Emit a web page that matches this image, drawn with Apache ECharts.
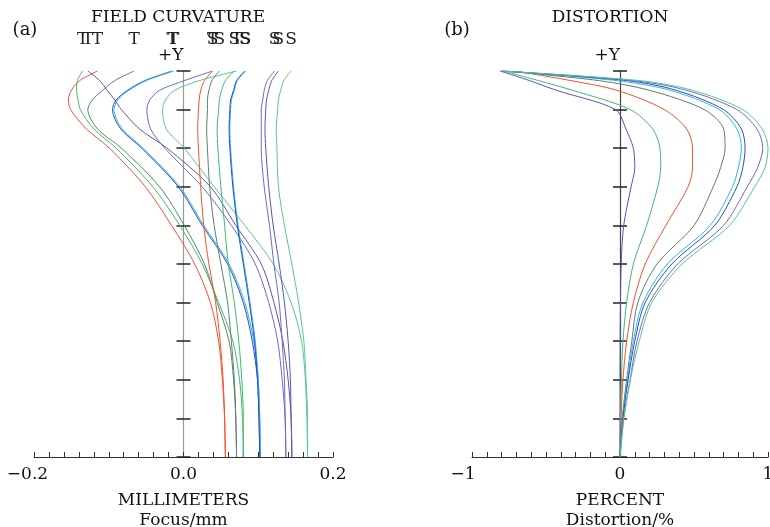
<!DOCTYPE html>
<html>
<head>
<meta charset="utf-8">
<script src="https://cdn.jsdelivr.net/npm/echarts@6/dist/echarts.min.js"></script>
<style>
  html, body { margin: 0; padding: 0; background: #fff; }
  #main { width: 770px; height: 527px; }
</style>
</head>
<body>
<div id="main"></div>
<script>
const FONT = '"DejaVu Serif", serif';

// ---- field curvature (a) : relative field height, top -> bottom
const fieldY = [1, 0.975, 0.95, 0.925, 0.9, 0.85, 0.8, 0.7, 0.6, 0.5, 0.4, 0.3, 0.2, 0.1, 0];

// tangential curves (mm)
const redT     = [-0.115, -0.139, -0.150, -0.154, -0.151, -0.130, -0.099, -0.051, -0.016, 0.015, 0.036, 0.047, 0.052, 0.055, 0.056];
const greenT   = [-0.135, -0.142, -0.143, -0.141, -0.138, -0.120, -0.090, -0.041, -0.005, 0.025, 0.047, 0.066, 0.075, 0.079, 0.080];
const dkgreenT = [-0.066, -0.092, -0.108, -0.122, -0.128, -0.115, -0.083, -0.032, 0.001, 0.028, 0.045, 0.061, 0.067, 0.070, 0.071];
const blueT    = [-0.015, -0.052, -0.075, -0.090, -0.095, -0.084, -0.056, -0.007, 0.025, 0.059, 0.080, 0.092, 0.099, 0.101, 0.102];
const cyanT    = [-0.013, -0.050, -0.073, -0.088, -0.093, -0.082, -0.054, -0.005, 0.027, 0.061, 0.082, 0.094, 0.100, 0.102, 0.103];
const purpleAT = [-0.128, -0.112, -0.102, -0.092, -0.083, -0.059, -0.022, 0.036, 0.070, 0.104, 0.121, 0.133, 0.140, 0.144, 0.145];
const purpleBT = [0.039, 0.001, -0.032, -0.045, -0.049, -0.044, -0.025, 0.025, 0.064, 0.096, 0.114, 0.126, 0.132, 0.136, 0.137];
const lgreenT  = [0.071, 0.021, -0.012, -0.024, -0.028, -0.023, 0.001, 0.041, 0.082, 0.120, 0.144, 0.158, 0.163, 0.165, 0.166];

// sagittal curves (mm)
const redS     = [0.039, 0.028, 0.023, 0.021, 0.020, 0.019, 0.020, 0.023, 0.027, 0.034, 0.043, 0.049, 0.053, 0.055, 0.056];
const dkgreenS = [0.048, 0.038, 0.034, 0.032, 0.032, 0.031, 0.032, 0.035, 0.041, 0.050, 0.059, 0.064, 0.068, 0.070, 0.071];
const greenS   = [0.068, 0.056, 0.051, 0.048, 0.047, 0.045, 0.046, 0.050, 0.055, 0.060, 0.068, 0.074, 0.078, 0.080, 0.080];
const blueS    = [0.082, 0.071, 0.067, 0.063, 0.062, 0.061, 0.062, 0.066, 0.072, 0.080, 0.088, 0.095, 0.099, 0.101, 0.102];
const cyanS    = [0.083, 0.072, 0.068, 0.064, 0.063, 0.062, 0.063, 0.067, 0.073, 0.081, 0.089, 0.096, 0.100, 0.102, 0.103];
const purpleBS = [0.122, 0.112, 0.108, 0.106, 0.104, 0.104, 0.104, 0.108, 0.115, 0.121, 0.128, 0.132, 0.135, 0.136, 0.137];
const purpleAS = [0.127, 0.118, 0.114, 0.111, 0.110, 0.109, 0.110, 0.114, 0.120, 0.128, 0.135, 0.140, 0.143, 0.144, 0.145];
const lgreenS  = [0.144, 0.134, 0.130, 0.127, 0.126, 0.124, 0.125, 0.127, 0.135, 0.145, 0.154, 0.161, 0.164, 0.166, 0.166];

// ---- distortion (b) : relative field height, top -> bottom
const distY = [1, 0.975, 0.95, 0.9, 0.85, 0.8, 0.75, 0.7, 0.6, 0.5, 0.4, 0.3, 0.2, 0.1, 0];

// distortion (%)
const purpleAD = [-0.81, -0.61, -0.43, -0.03, 0.04, 0.09, 0.10, 0.075, 0.025, 0.008, 0.003, 0.001, 0, 0, 0];
const greenD   = [-0.79, -0.55, -0.32, 0.07, 0.22, 0.27, 0.275, 0.255, 0.18, 0.09, 0.045, 0.02, 0.01, 0.003, 0];
const redD     = [-0.71, -0.33, -0.02, 0.30, 0.45, 0.49, 0.49, 0.46, 0.31, 0.17, 0.09, 0.045, 0.02, 0.007, 0];
const dkgreenD = [-0.78, -0.14, 0.20, 0.57, 0.70, 0.71, 0.68, 0.63, 0.50, 0.25, 0.12, 0.08, 0.045, 0.015, 0];
const cyanD    = [-0.79, -0.02, 0.34, 0.67, 0.79, 0.82, 0.80, 0.76, 0.61, 0.32, 0.155, 0.09, 0.05, 0.018, 0];
const blueD    = [-0.80, 0.05, 0.38, 0.70, 0.82, 0.845, 0.83, 0.79, 0.64, 0.35, 0.17, 0.10, 0.055, 0.02, 0];
const purpleBD = [-0.81, 0.09, 0.45, 0.79, 0.925, 0.965, 0.93, 0.86, 0.70, 0.39, 0.20, 0.115, 0.068, 0.025, 0];
const lgreenD  = [-0.80, 0.135, 0.49, 0.83, 0.96, 1.0, 0.98, 0.91, 0.74, 0.42, 0.215, 0.13, 0.07, 0.027, 0];

// tick labels
const fieldTicks = [-0.2, 0, 0.2];
const fieldTickText = ['\u22120.2', '0.0', '0.2'];
const distTicks = [-1, 0, 1];
const distTickText = ['\u22121', '0', '1'];

const C = {
  red: '#f2502c', dkgreen: '#5b806a', green: '#3dbb6e', blue: '#2450c4',
  cyan: '#2fb4e6', purpleA: '#5b52b5', purpleB: '#6c68cc', lgreen: '#55c98e'
};

function fieldSeries(xs, color, tag) {
  return {
    type: 'line', xAxisIndex: 0, yAxisIndex: 0,
    data: xs.map((x, i) => i === 0
      ? { value: [x, fieldY[i]], label: { show: true, formatter: tag } }
      : [x, fieldY[i]]),
    smooth: 0.3, symbol: 'circle', symbolSize: 0, showSymbol: true,
    lineStyle: { width: 1, color: color }, itemStyle: { color: color },
    label: { show: false, position: 'top', distance: 23, color: '#222', fontFamily: FONT, fontSize: 17 },
    silent: true
  };
}

function distSeries(xs, color) {
  return {
    type: 'line', xAxisIndex: 1, yAxisIndex: 2,
    data: xs.map((x, i) => [x, distY[i]]),
    smooth: 0.3, symbol: 'none',
    lineStyle: { width: 1, color: color },
    silent: true
  };
}

function tickFormatter(values, texts) {
  return function (v) {
    for (let i = 0; i < values.length; i++) {
      if (Math.abs(v - values[i]) < 1e-6) {
        return values[i] < 0 ? '{n|' + texts[i] + '}' : texts[i];
      }
    }
    return '';
  };
}

function xAxisOf(grid, min, max, step, values, texts, pad, name) {
  return {
    type: 'value', gridIndex: grid, min: min, max: max, interval: step,
    axisLine: { lineStyle: { color: '#333', width: 1 } },
    axisTick: { inside: true, length: 5, lineStyle: { color: '#333' } },
    splitLine: { show: false },
    axisLabel: {
      margin: 9, color: '#111', fontFamily: FONT, fontSize: 17,
      formatter: tickFormatter(values, texts),
      rich: { n: { fontFamily: FONT, fontSize: 17, color: '#111', padding: [0, pad, 0, 0] } }
    },
    name: name, nameLocation: 'middle', nameGap: 34,
    nameTextStyle: { color: '#111', fontFamily: FONT, fontSize: 17, lineHeight: 20 }
  };
}

// two y axes per grid on x = 0 : one tick set points right, the other left
function yAxesOf(grid, xIndex, lineColor) {
  const base = {
    type: 'value', gridIndex: grid, min: 0, max: 1, interval: 0.1, position: 'left',
    axisLabel: { show: false }, splitLine: { show: false }
  };
  return [
    Object.assign({}, base, {
      name: '+Y', nameLocation: 'end', nameGap: 7,
      nameTextStyle: { color: '#111', fontFamily: FONT, fontSize: 17, align: 'right' },
      axisLine: { show: true, onZero: true, onZeroAxisIndex: xIndex, lineStyle: { color: lineColor, width: 1.2 } },
      axisTick: { inside: true, length: 7, lineStyle: { color: '#222', width: 1.5 } }
    }),
    Object.assign({}, base, {
      axisLine: { show: false, onZero: true, onZeroAxisIndex: xIndex },
      axisTick: { inside: false, length: 7, lineStyle: { color: '#222', width: 1.5 } }
    })
  ];
}

const series = [
  fieldSeries(redT, C.red, 'T'), fieldSeries(greenT, C.green, 'T'),
  fieldSeries(dkgreenT, C.dkgreen, 'T'), fieldSeries(blueT, C.blue, 'T'),
  fieldSeries(cyanT, C.cyan, 'T'), fieldSeries(purpleAT, C.purpleA, 'T'),
  fieldSeries(purpleBT, C.purpleB, 'T'), fieldSeries(lgreenT, C.lgreen, 'T'),
  fieldSeries(redS, C.red, 'S'), fieldSeries(dkgreenS, C.dkgreen, 'S'),
  fieldSeries(greenS, C.green, 'S'), fieldSeries(cyanS, C.cyan, 'S'),
  fieldSeries(blueS, C.blue, 'S'), fieldSeries(purpleBS, C.purpleB, 'S'),
  fieldSeries(purpleAS, C.purpleA, 'S'), fieldSeries(lgreenS, C.lgreen, 'S'),
  distSeries(purpleAD, C.purpleA), distSeries(greenD, C.green),
  distSeries(redD, C.red), distSeries(dkgreenD, C.dkgreen),
  distSeries(cyanD, C.cyan), distSeries(blueD, C.blue),
  distSeries(purpleBD, C.purpleB), distSeries(lgreenD, C.lgreen)
];

const titleText = (text, x, y, size) => ({
  type: 'text', x: x, y: y, silent: true,
  style: { text: text, fill: '#111', font: size + 'px ' + FONT, textAlign: 'center', textVerticalAlign: 'middle' }
});

const option = {
  animation: false,
  backgroundColor: '#fff',
  grid: [
    { left: 34, top: 71, width: 299, height: 386, outerBoundsMode: 'none' },
    { left: 472, top: 71, width: 296, height: 386, outerBoundsMode: 'none' }
  ],
  xAxis: [
    xAxisOf(0, -0.2, 0.2, 0.02, fieldTicks, fieldTickText, 13, 'MILLIMETERS\nFocus/mm'),
    xAxisOf(1, -1, 1, 0.1, distTicks, distTickText, 18, 'PERCENT\nDistortion/%')
  ],
  yAxis: yAxesOf(0, 0, '#9a9a9a').concat(yAxesOf(1, 1, '#444')),
  graphic: [
    titleText('FIELD CURVATURE', 178, 18, 17),
    titleText('(a)', 25, 30, 18),
    titleText('DISTORTION', 610, 18, 17),
    titleText('(b)', 457, 30, 18)
  ],
  series: series
};

const chart = echarts.init(document.getElementById('main'));
chart.setOption(option);
</script>
</body>
</html>
